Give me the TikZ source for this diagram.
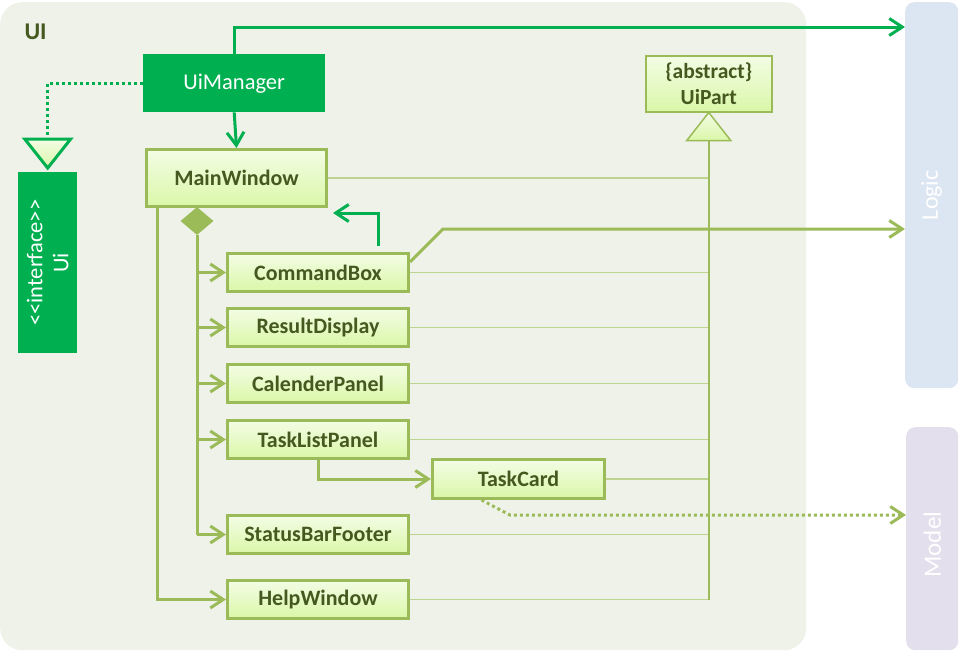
\documentclass[tikz,border=0pt]{standalone}
\usepackage{fontspec}
\setmainfont{Carlito}
\usetikzlibrary{arrows.meta,shapes.geometric}
\definecolor{pkgbg}{HTML}{EFF2E8}
\definecolor{logicbg}{HTML}{DCE6F2}
\definecolor{modelbg}{HTML}{E4DFEC}
\definecolor{dgreen}{HTML}{00B050}
\definecolor{olive}{HTML}{9BBB59}
\definecolor{lolive}{HTML}{BED38F}
\definecolor{txt}{HTML}{45581F}
\definecolor{ftop}{HTML}{F3FDE5}
\definecolor{fbot}{HTML}{DAF7A8}
\begin{document}
\begin{tikzpicture}[x=1pt,y=-1pt,
  pkg/.style={rounded corners=#1, anchor=north west, inner sep=0pt},
  cls/.style={draw=olive, line width=3pt, top color=ftop, bottom color=fbot, text=txt,
    font=\fontsize{22}{26}\selectfont\bfseries, anchor=north west, inner sep=0pt},
  solid green/.style={fill=dgreen, anchor=north west, inner sep=0pt, text=white,
    font=\fontsize{22.5}{27}\selectfont},
  lbl/.style={text=white, font=\fontsize{23}{27}\selectfont, rotate=90, align=center},
  barb/.style={-{Straight Barb[length=13pt,width=17pt]}},
  garrow/.style={draw=dgreen, line width=3pt, barb},
  oarrow/.style={draw=olive, line width=3pt, barb},
  thinl/.style={draw=lolive, line width=1.6pt},
  dotl/.style={line width=3pt, dash pattern=on 3pt off 3pt},
]
\useasboundingbox (0,0) rectangle (961,653);

% packages
\node[pkg=22pt, fill=pkgbg, minimum width=806pt, minimum height=648pt] (uipkg) at (0,2) {};
\node[text=txt, font=\fontsize{24}{26}\selectfont\bfseries, anchor=base west] (uilbl) at (21,39) {UI};
\node[pkg=9pt, fill=logicbg, minimum width=53pt, minimum height=386pt] (logic) at (905,2) {};
\node[lbl, font=\fontsize{24}{27}\selectfont] (logictxt) at (logic.center) {Logic};
\node[pkg=9pt, fill=modelbg, minimum width=52pt, minimum height=223pt] (model) at (906,427) {};
\node[lbl, font=\fontsize{25}{27}\selectfont] (modeltxt) at ([yshift=-6pt]model.center) {Model};

% UiManager and Ui interface
\node[solid green, minimum width=182pt, minimum height=58pt] (uim) at (143,54) {UiManager};
\node[solid green, minimum width=59pt, minimum height=181pt] (ui) at (18,172) {};
\node[lbl, font=\fontsize{22.5}{26}\selectfont] (uitxt) at (ui.center) {<\kern0pt<interface>\kern0pt>\\Ui};
\coordinate (iftip) at ([yshift=4pt]ui.north);
\draw[draw=dgreen, line width=3pt, top color=ftop, bottom color=fbot, line join=miter]
  (iftip) -- ++(-23,-29) -- ++(46,0) -- cycle;
\coordinate (iftop) at ([yshift=29pt]iftip);
\draw[dgreen, dotl] (uim.west) -| (iftop);

% classes
\node[cls, minimum width=180pt, minimum height=57pt] (mw) at (145,148) {MainWindow};
\node[cls, line width=1.5pt, minimum width=126pt, minimum height=56pt, align=center,
  font=\fontsize{21.5}{26}\selectfont\bfseries] (uipart) at (645,55) {\{abstract\}\\UiPart};
\node[cls, minimum width=181pt, minimum height=38pt] (cb) at (226,252) {CommandBox};
\node[cls, minimum width=181pt, minimum height=38pt] (rd) at (226,307) {ResultDisplay};
\node[cls, minimum width=181pt, minimum height=38pt] (cp) at (226,363) {CalenderPanel};
\node[cls, minimum width=181pt, minimum height=38pt] (tlp) at (226,419) {TaskListPanel};
\node[cls, minimum width=172pt, minimum height=39pt] (tc) at (431,458) {TaskCard};
\node[cls, minimum width=181pt, minimum height=38pt] (sbf) at (226,514) {StatusBarFooter};
\node[cls, minimum width=181pt, minimum height=38pt] (hw) at (226,579) {HelpWindow};

% inheritance to UiPart
\coordinate (tri) at ([yshift=-28pt]uipart.south);
\foreach \n in {mw,cb,rd,cp,tlp,tc,sbf,hw}
  \draw[thinl] (\n.east) -- (tri |- \n.east);
\draw[olive, line width=2pt] (tri) -- (tri |- hw.east);
\draw[draw=olive, line width=1.5pt, top color=ftop, bottom color=fbot]
  (uipart.south) -- ++(22,28) -- ++(-44,0) -- cycle;

% composition
\node[diamond, fill=olive, inner sep=0pt, minimum width=33pt, minimum height=28pt] (dia) at (197,221) {};
\draw[olive, line width=3pt] (dia.south) -- (dia.south |- sbf.west);
\foreach \n in {cb,rd,cp,tlp,sbf}
  \draw[oarrow] (dia.south |- \n.west) -- (\n.west);
\draw[oarrow] ([xshift=12pt]mw.south west) |- (hw.west);
\draw[oarrow] (tlp.south) |- (tc.west);

% green dependencies
\draw[garrow] (uim.south) -- (mw.north);
\draw[garrow] (uim.north) -- (uim.north |- 0,27) -- (logic.west |- 0,27);
\draw[garrow] ([xshift=60pt,yshift=6pt]cb.north) |- ([xshift=5pt,yshift=-5pt]mw.south east);

% to Logic and Model
\draw[oarrow] ([yshift=-10pt]cb.north east) -- (443,229) -- (logic.west |- 0,229);
\draw[olive, dotl, barb] ([xshift=-37pt]tc.south) -- (510,515) -- (model.west |- 0,515);
\end{tikzpicture}
\end{document}
